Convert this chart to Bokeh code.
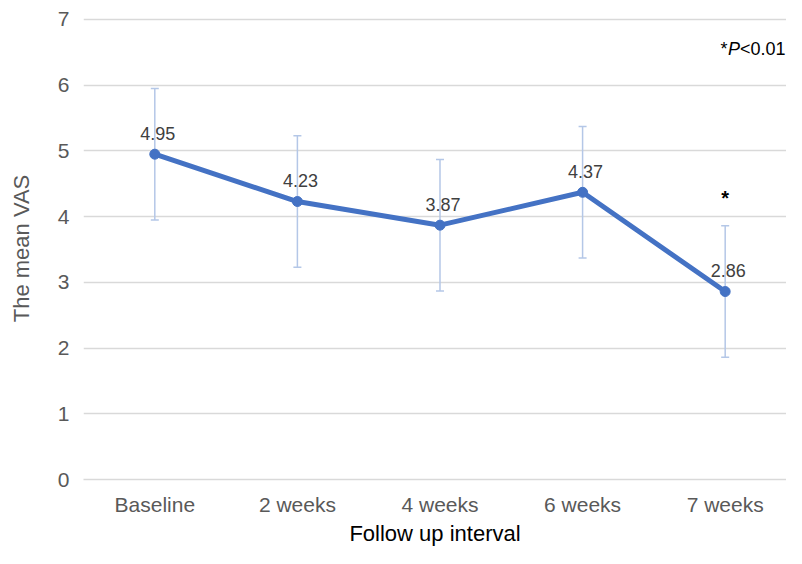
from bokeh.plotting import figure
from bokeh.models import Range1d, FixedTicker, ColumnDataSource, Whisker, TeeHead
from bokeh.embed import file_html
from bokeh.resources import INLINE
from bokeh.core.properties import value

# ---- data ----
intervals = ["Baseline", "2 weeks", "4 weeks", "6 weeks", "7 weeks"]
mean_vas = [4.95, 4.23, 3.87, 4.37, 2.86]
sd_vas = [1.0, 1.0, 1.0, 1.0, 1.0]
y_ticks = [0, 1, 2, 3, 4, 5, 6, 7]
significant = ["7 weeks"]
note_parts = ["*", "P", "<0.01"]
x_title = "Follow up interval"
y_title = "The mean VAS"

FONT = "Liberation Sans"

x = list(range(len(intervals)))
src = ColumnDataSource(dict(
    x=x,
    y=mean_vas,
    lower=[m - s for m, s in zip(mean_vas, sd_vas)],
    upper=[m + s for m, s in zip(mean_vas, sd_vas)],
    label=[f"{m:.2f}" for m in mean_vas],
))

p = figure(width=786, height=548,
           x_range=Range1d(-0.5, 4.43), y_range=Range1d(0, 7.03),
           output_backend="svg", toolbar_location=None,
           min_border_left=83, min_border_right=0,
           min_border_top=17, min_border_bottom=0)
p.outline_line_color = None
p.background_fill_color = "white"
p.border_fill_color = "white"

# x axis
xa = p.xaxis[0]
xa.ticker = FixedTicker(ticks=x)
xa.major_label_overrides = {i: n for i, n in zip(x, intervals)}
xa.major_tick_line_color = None
xa.minor_tick_line_color = None
xa.axis_line_color = "#D9D9D9"
xa.axis_line_width = 1.3
xa.major_label_text_font = FONT
xa.major_label_text_font_size = "21px"
xa.major_label_text_color = "#595959"
xa.major_label_standoff = 7
xa.axis_label = x_title
xa.axis_label_text_font = FONT
xa.axis_label_text_font_size = "22px"
xa.axis_label_text_font_style = "normal"
xa.axis_label_text_color = "#000000"
xa.axis_label_standoff = 2

# y axis
ya = p.yaxis[0]
ya.ticker = FixedTicker(ticks=y_ticks)
ya.major_tick_line_color = None
ya.minor_tick_line_color = None
ya.axis_line_color = None
ya.major_label_text_font = FONT
ya.major_label_text_font_size = "21px"
ya.major_label_text_color = "#595959"
ya.major_label_standoff = 8
ya.axis_label = y_title
ya.axis_label_text_font = FONT
ya.axis_label_text_font_size = "22px"
ya.axis_label_text_font_style = "normal"
ya.axis_label_text_color = "#595959"
ya.axis_label_standoff = 21

p.xgrid.grid_line_color = None
p.ygrid.grid_line_color = "#D9D9D9"
p.ygrid.grid_line_width = 1.3

# error bars
eb_color = "#B4C7E7"
w = Whisker(source=src, base="x", upper="upper", lower="lower",
            line_color=eb_color, line_width=1.5,
            upper_head=TeeHead(size=8, line_color=eb_color, line_width=1.5),
            lower_head=TeeHead(size=8, line_color=eb_color, line_width=1.5))
p.add_layout(w)

# line + markers
p.line("x", "y", source=src, line_color="#4472C4", line_width=5)
p.scatter("x", "y", source=src, size=10, fill_color="#4472C4", line_color="#4472C4")

# data labels
p.text(x="x", y="y", text="label", source=src, text_align="center",
       text_baseline="middle", y_offset=-21, x_offset=3,
       text_font=value(FONT), text_font_size="18px", text_color="#404040")

# significance star
sig_x = [intervals.index(s) for s in significant]
p.text(x=sig_x, y=[4.28] * len(sig_x), text=["*"] * len(sig_x),
       text_align="center", text_baseline="alphabetic",
       text_font=value(FONT), text_font_size="20px", text_font_style="bold",
       text_color="#000000")

# note "*P<0.01"
nx, ny = 4.423, 6.55
p.text(x=[nx], y=[ny], text=[note_parts[2]], text_align="right",
       text_baseline="alphabetic", text_font=value(FONT),
       text_font_size="18px", text_color="#000000")
p.text(x=[nx], y=[ny], text=[note_parts[1]], text_align="right",
       text_baseline="alphabetic", x_offset=-45.5, text_font=value(FONT),
       text_font_size="18px", text_font_style="italic", text_color="#000000")
p.text(x=[nx], y=[ny], text=[note_parts[0]], text_align="right",
       text_baseline="alphabetic", x_offset=-58, text_font=value(FONT),
       text_font_size="18px", text_color="#000000")

open("out.html", "w").write(file_html(p, INLINE))
